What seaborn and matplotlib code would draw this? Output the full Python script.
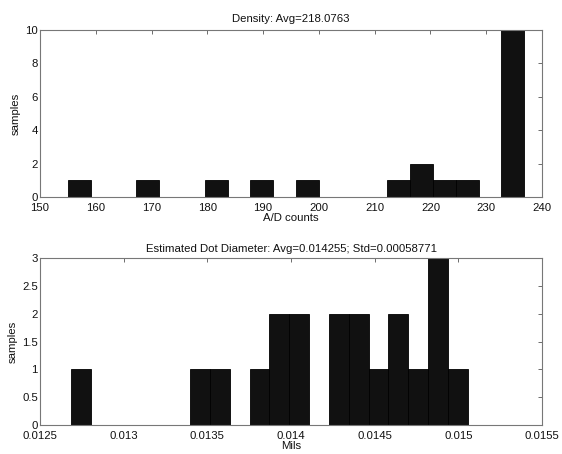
import numpy as np
import pandas as pd
import matplotlib
matplotlib.use("Agg")
import matplotlib.pyplot as plt
import seaborn as sns

# ---- Data (histogram bins) ----
# Top panel: density in A/D counts, 20 bins between min and max
density_min = 155.0
density_max = 236.8
density_nbins = 20
density_bin_index = [0, 3, 6, 8, 10, 14, 15, 16, 17, 19]
density_counts = [1, 1, 1, 1, 1, 1, 2, 1, 1, 10]
density_title = "Density: Avg=218.0763"
density_xticks = [150, 160, 170, 180, 190, 200, 210, 220, 230, 240]
density_yticks = [0, 2, 4, 6, 8, 10]

# Bottom panel: estimated dot diameter in Mils, 20 bins
dot_min = 0.012685
dot_max = 0.015057
dot_nbins = 20
dot_bin_index = [0, 6, 7, 9, 10, 11, 13, 14, 15, 16, 17, 18, 19]
dot_counts = [1, 1, 1, 1, 2, 2, 2, 2, 1, 2, 1, 3, 1]
dot_title = "Estimated Dot Diameter: Avg=0.014255; Std=0.00058771"
dot_xticks = [0.0125, 0.013, 0.0135, 0.014, 0.0145, 0.015, 0.0155]
dot_xticklabels = ["0.0125", "0.013", "0.0135", "0.014", "0.0145", "0.015", "0.0155"]
dot_yticks = [0, 0.5, 1, 1.5, 2, 2.5, 3]
dot_yticklabels = ["0", "0.5", "1", "1.5", "2", "2.5", "3"]

sns.set_style("white")
plt.rcParams["font.family"] = ["Liberation Sans", "DejaVu Sans"]
FS = 8.2

fig = plt.figure(figsize=(5.62, 4.54), dpi=100)
fig.patch.set_facecolor("white")

L, R = 40, 542
ax1 = fig.add_axes([L / 562, 1 - 197 / 454, (R - L) / 562, 167 / 454])
ax2 = fig.add_axes([L / 562, 1 - 425 / 454, (R - L) / 562, 167 / 454])


def draw(ax, vmin, vmax, nbins, idx, counts, title, xlabel, xlim, ylim,
         xticks, yticks, xticklabels=None, yticklabels=None, tpad=5):
    edges = np.linspace(vmin, vmax, nbins + 1)
    centers = (edges[:-1] + edges[1:]) / 2
    df = pd.DataFrame({"x": centers[idx], "w": np.asarray(counts, dtype=float)})
    sns.histplot(data=df, x="x", weights="w", bins=[float(e) for e in edges],
                 ax=ax, stat="count", fill=True,
                 color="#111111", edgecolor="#000000", linewidth=0.6,
                 alpha=1.0)
    ax.set_xlim(*xlim)
    ax.set_ylim(*ylim)
    ax.set_xticks(xticks)
    ax.set_yticks(yticks)
    if xticklabels is not None:
        ax.set_xticklabels(xticklabels)
    if yticklabels is not None:
        ax.set_yticklabels(yticklabels)
    ax.set_title(title, fontsize=FS, pad=tpad, color="#111111")
    ax.set_xlabel(xlabel, fontsize=FS, labelpad=0, color="#111111")
    ax.set_ylabel("samples", fontsize=FS, labelpad=3, color="#111111")
    ax.tick_params(axis="x", pad=4.5)
    ax.tick_params(axis="y", pad=1.5)
    ax.tick_params(direction="in", length=3, width=0.6, top=True, right=True,
                   labelsize=FS, colors="#555555", labelcolor="#111111")
    for s in ax.spines.values():
        s.set_visible(True)
        s.set_color("#777777")
        s.set_linewidth(0.8)


draw(ax1, density_min, density_max, density_nbins, density_bin_index,
     density_counts, density_title, "A/D counts", (150, 240), (0, 10),
     density_xticks, density_yticks, tpad=5.5)
draw(ax2, dot_min, dot_max, dot_nbins, dot_bin_index, dot_counts,
     dot_title, "Mils", (0.0125, 0.0155), (0, 3),
     dot_xticks, dot_yticks, dot_xticklabels, dot_yticklabels, tpad=4)

fig.savefig("out.png", dpi=100, facecolor="white")
